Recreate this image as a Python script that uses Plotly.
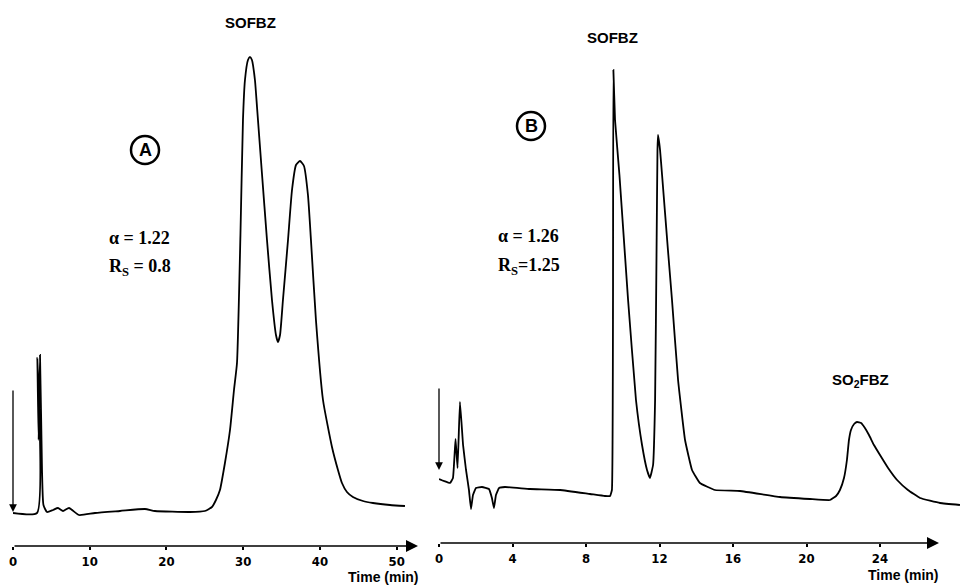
import plotly.graph_objects as go

# ---------------- data ----------------
# Panel A : time (min) and detector response (arbitrary units)
a_time = [0, 3.13, 3.17, 3.34, 3.52, 3.78, 3.97, 4.43, 5.21, 5.86, 6.52, 7.30, 8.60,
          10.69, 13.94, 17.20, 18.5, 23.06, 25.0, 25.93, 26.45, 26.97, 27.62, 28.28,
          28.80, 29.19, 29.64, 29.97, 30.23, 30.62, 30.88, 31.14, 31.53, 31.80, 32.44,
          33.10, 33.75, 34.27, 34.53, 34.80, 35.18, 35.84, 36.36, 36.88, 37.40, 37.92,
          38.44, 38.83, 39.48, 40.40, 41.57, 42.35, 42.87, 43.52, 44.30, 45.61, 46.91,
          49.13, 51.08]
a_resp = [6.6, 6.6, 37.6, 21.2, 38.2, 15.2, 8.2, 6.8, 7.2, 7.6, 7.0, 7.6, 6.2,
          6.6, 7.0, 7.4, 7.0, 6.8, 7.0, 7.8, 9.2, 11.2, 16.6, 23.2,
          31.2, 36.6, 62.2, 85.2, 93.2, 97.2, 97.8, 97.2, 93.2, 87.8, 74.6,
          61.2, 49.2, 42.2, 40.8, 42.2, 49.2, 61.2, 71.2, 76.2, 77.0, 76.0,
          70.2, 61.2, 45.2, 29.2, 19.8, 15.2, 12.6, 10.8, 9.8, 9.0, 8.6,
          8.2, 8.0]

# Panel B : time (min) and detector response (arbitrary units)
b_time = [0, 0.27, 0.60, 0.76, 0.90, 1.01, 1.14, 1.31, 1.47, 1.63, 1.74, 1.85, 2.01,
          2.34, 2.72, 2.88, 2.99, 3.10, 3.27, 3.59, 4.95, 6.59, 8.22, 9.03, 9.31,
          9.41, 9.47, 9.49, 9.58, 9.82, 10.29, 10.72, 11.05, 11.32, 11.48, 11.65,
          11.76, 11.84, 11.89, 11.92, 12.03, 12.14, 12.46, 12.68, 13.01, 13.39,
          13.77, 14.20, 15.02, 16.38, 18.56, 20.19, 21.28, 21.61, 21.82, 22.04,
          22.20, 22.31, 22.42, 22.59, 22.75, 22.97, 23.18, 23.40, 23.67, 24.00,
          24.44, 24.93, 25.52, 26.18, 27.27, 28.35]
b_resp = [12.8, 12.4, 12.0, 13.0, 20.8, 15.0, 28.2, 19.6, 14.6, 10.6, 6.8, 9.6, 11.0,
          11.2, 10.8, 9.0, 7.0, 9.6, 11.0, 11.2, 10.8, 10.6, 9.8, 9.4, 9.4,
          10.6, 48.6, 94.6, 84.6, 73.6, 48.6, 28.6, 19.6, 14.6, 13.0, 15.6,
          28.6, 58.6, 78.6, 81.6, 78.6, 73.6, 58.6, 48.6, 32.6, 20.6,
          14.6, 12.0, 10.6, 10.4, 9.2, 8.8, 8.6, 9.4, 10.6, 13.0,
          16.6, 20.6, 22.6, 23.8, 24.2, 24.0, 23.0, 21.6, 19.6, 17.6,
          15.0, 12.6, 10.6, 9.0, 8.0, 7.6]

a_ticks = [0, 10, 20, 30, 40, 50]
b_ticks = [0, 4, 8, 12, 16, 20, 24]
a_axis_end = 52.78
b_axis_end = 27.21

# ---------------- figure ----------------
# the page body keeps an 8 px default margin, so the figure is placed 8 px in
OFF = 8
W, H = 968 - OFF, 585 - OFF
def px(x):
    return (x - OFF) / W
def py(y):
    return 1 - (y - OFF) / H

fig = go.Figure()
fig.add_trace(go.Scatter(x=a_time, y=a_resp, mode="lines",
                         line=dict(color="black", width=1.8, shape="spline", smoothing=0.5),
                         xaxis="x", yaxis="y", hoverinfo="skip"))
fig.add_trace(go.Scatter(x=b_time, y=b_resp, mode="lines",
                         line=dict(color="black", width=1.8, shape="spline", smoothing=0.3),
                         xaxis="x2", yaxis="y2", hoverinfo="skip"))

tickfont = dict(family="Liberation Sans Narrow, DejaVu Sans Condensed, Arial Narrow, sans-serif",
                size=13, color="black", weight="bold")
common_x = dict(showgrid=False, zeroline=False, showline=False, ticks="outside",
                ticklen=3, tickwidth=1.5, tickcolor="black", tickfont=tickfont,
                fixedrange=True)

fig.update_layout(
    width=W, height=H,
    margin=dict(l=0, r=0, t=0, b=0, autoexpand=False),
    paper_bgcolor="white", plot_bgcolor="white",
    showlegend=False,
    xaxis=dict(domain=[px(13), px(418)], range=[0, a_axis_end],
               tickvals=a_ticks, anchor="y", **common_x),
    yaxis=dict(domain=[py(546), 1], range=[0, (546 - OFF) / 5], visible=False, anchor="x"),
    xaxis2=dict(domain=[px(439), px(962)], range=[0, (962 - 439) / 18.375],
                tickvals=b_ticks, anchor="y2", **common_x),
    yaxis2=dict(domain=[py(543), 1], range=[0, (543 - OFF) / 5], visible=False, anchor="x2"),
)

ann = []
# axis arrows
ann.append(dict(xref="x", yref="y", axref="x", ayref="y", x=a_axis_end, y=0, ax=0, ay=0,
                text="", showarrow=True, arrowhead=2, arrowsize=1.6, arrowwidth=1.5,
                arrowcolor="black"))
ann.append(dict(xref="x2", yref="y2", axref="x2", ayref="y2", x=b_axis_end, y=0, ax=0, ay=0,
                text="", showarrow=True, arrowhead=2, arrowsize=1.6, arrowwidth=1.5,
                arrowcolor="black"))
# injection arrows
ann.append(dict(xref="x", yref="y", axref="x", ayref="y", x=0, y=6.8, ax=0, ay=31.4,
                text="", showarrow=True, arrowhead=2, arrowsize=1.2, arrowwidth=1.3,
                arrowcolor="black"))
ann.append(dict(xref="x2", yref="y2", axref="x2", ayref="y2", x=0, y=14.6, ax=0, ay=31.2,
                text="", showarrow=True, arrowhead=2, arrowsize=1.2, arrowwidth=1.3,
                arrowcolor="black"))

sans_b = dict(family="Liberation Sans, Arial, sans-serif", size=15, color="black", weight="bold")
time_f = dict(family="Liberation Sans, Arial, sans-serif", size=14, color="black", weight="bold")
serif_b = dict(family="Liberation Serif, Times New Roman, serif", size=18, color="black", weight="bold")
letter = dict(family="Liberation Sans, Arial, sans-serif", size=18, color="black", weight="bold")

def text(t, x, y, font, xanchor="center"):
    ann.append(dict(xref="paper", yref="paper", x=px(x), y=py(y), text=t, showarrow=False,
                    font=font, xanchor=xanchor, yanchor="middle"))

text("SOFBZ", 250, 22, sans_b)
text("SOFBZ", 612, 37, sans_b)
text("SO<sub>2</sub>FBZ", 860, 380, sans_b)
text("α = 1.22", 107, 238, serif_b, "left")
text("R<sub>S</sub> = 0.8", 107, 267, serif_b, "left")
text("α = 1.26", 496, 236, serif_b, "left")
text("R<sub>S</sub>=1.25", 496, 266, serif_b, "left")
text("Time (min)", 421, 577, time_f, "right")
text("Time (min)", 941, 575, time_f, "right")
text("A", 145, 150, letter)
text("B", 531, 126, letter)

fig.update_layout(annotations=ann)

shapes = []
for cx, cy in [(145, 150), (531, 126)]:
    r = 14
    shapes.append(dict(type="circle", xref="paper", yref="paper",
                       x0=px(cx - r), x1=px(cx + r), y0=py(cy + r), y1=py(cy - r),
                       line=dict(color="black", width=2.5)))
fig.update_layout(shapes=shapes)

fig.write_html("out.html")
